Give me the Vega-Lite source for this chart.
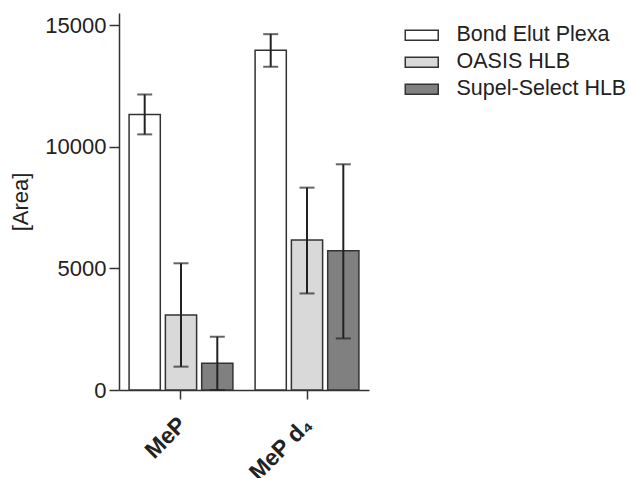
{
  "$schema": "https://vega.github.io/schema/vega-lite/v6.json",
  "width": 250,
  "height": 377,
  "autosize": {"type": "none"},
  "padding": {"left": 119, "top": 13, "right": 262, "bottom": 88},
  "background": "white",
  "config": {
    "font": "Liberation Sans",
    "view": {"stroke": null},
    "axis": {"domainColor": "#333", "domainWidth": 1.5, "tickColor": "#333", "tickWidth": 1.5, "labelColor": "#222", "titleColor": "#222", "grid": false}
  },
  "data": {
    "values": [
      {"compound": "MeP", "method": "Bond Elut Plexa", "area": 11330, "lo": 10510, "hi": 12150},
      {"compound": "MeP", "method": "OASIS HLB", "area": 3080, "lo": 960, "hi": 5210},
      {"compound": "MeP", "method": "Supel-Select HLB", "area": 1100, "lo": 0, "hi": 2190},
      {"compound": "MeP d₄", "method": "Bond Elut Plexa", "area": 13970, "lo": 13290, "hi": 14630},
      {"compound": "MeP d₄", "method": "OASIS HLB", "area": 6170, "lo": 3970, "hi": 8320},
      {"compound": "MeP d₄", "method": "Supel-Select HLB", "area": 5730, "lo": 2120, "hi": 9280}
    ]
  },
  "encoding": {
    "x": {
      "field": "compound", "type": "nominal", "sort": ["MeP", "MeP d₄"],
      "scale": {"paddingInner": 0.176, "paddingOuter": 0.08},
      "axis": {"title": null, "labelAngle": -45, "labelFontSize": 23, "labelFontWeight": "bold", "labelPadding": 14, "labelOffset": -6, "tickSize": 9}
    },
    "xOffset": {
      "field": "method", "type": "nominal", "sort": ["Bond Elut Plexa", "OASIS HLB", "Supel-Select HLB"],
      "scale": {"paddingInner": 0.14, "paddingOuter": 0}
    }
  },
  "layer": [
    {
      "mark": {"type": "bar", "stroke": "#333", "strokeWidth": 1.5},
      "encoding": {
        "y": {
          "field": "area", "type": "quantitative",
          "scale": {"domain": [0, 15500], "nice": false},
          "axis": {"title": "[Area]", "values": [0, 5000, 10000, 15000], "labelFontSize": 22, "titleFontSize": 22, "titleFontWeight": "normal", "tickSize": 10, "labelPadding": 3, "titlePadding": 12, "format": "d"}
        },
        "fill": {
          "field": "method", "type": "nominal", "sort": ["Bond Elut Plexa", "OASIS HLB", "Supel-Select HLB"],
          "scale": {"range": ["#ffffff", "#d9d9d9", "#808080"]},
          "legend": {
            "title": null, "orient": "none", "legendX": 292, "legendY": 11.5,
            "labelFontSize": 21.5, "labelColor": "#222", "labelLimit": 300,
            "symbolType": "M-3,-0.9H3V0.9H-3Z", "symbolSize": 121,
            "symbolStrokeColor": "#333", "symbolStrokeWidth": 1.5,
            "labelOffset": 24, "rowPadding": 4, "padding": 0
          }
        }
      }
    },
    {
      "mark": {"type": "rule", "color": "#222", "strokeWidth": 2},
      "encoding": {
        "y": {"field": "lo", "type": "quantitative"},
        "y2": {"field": "hi"}
      }
    },
    {
      "mark": {"type": "tick", "color": "#222", "thickness": 2, "size": 15, "orient": "horizontal"},
      "encoding": {"y": {"field": "lo", "type": "quantitative"}}
    },
    {
      "mark": {"type": "tick", "color": "#222", "thickness": 2, "size": 15, "orient": "horizontal"},
      "encoding": {"y": {"field": "hi", "type": "quantitative"}}
    }
  ]
}
